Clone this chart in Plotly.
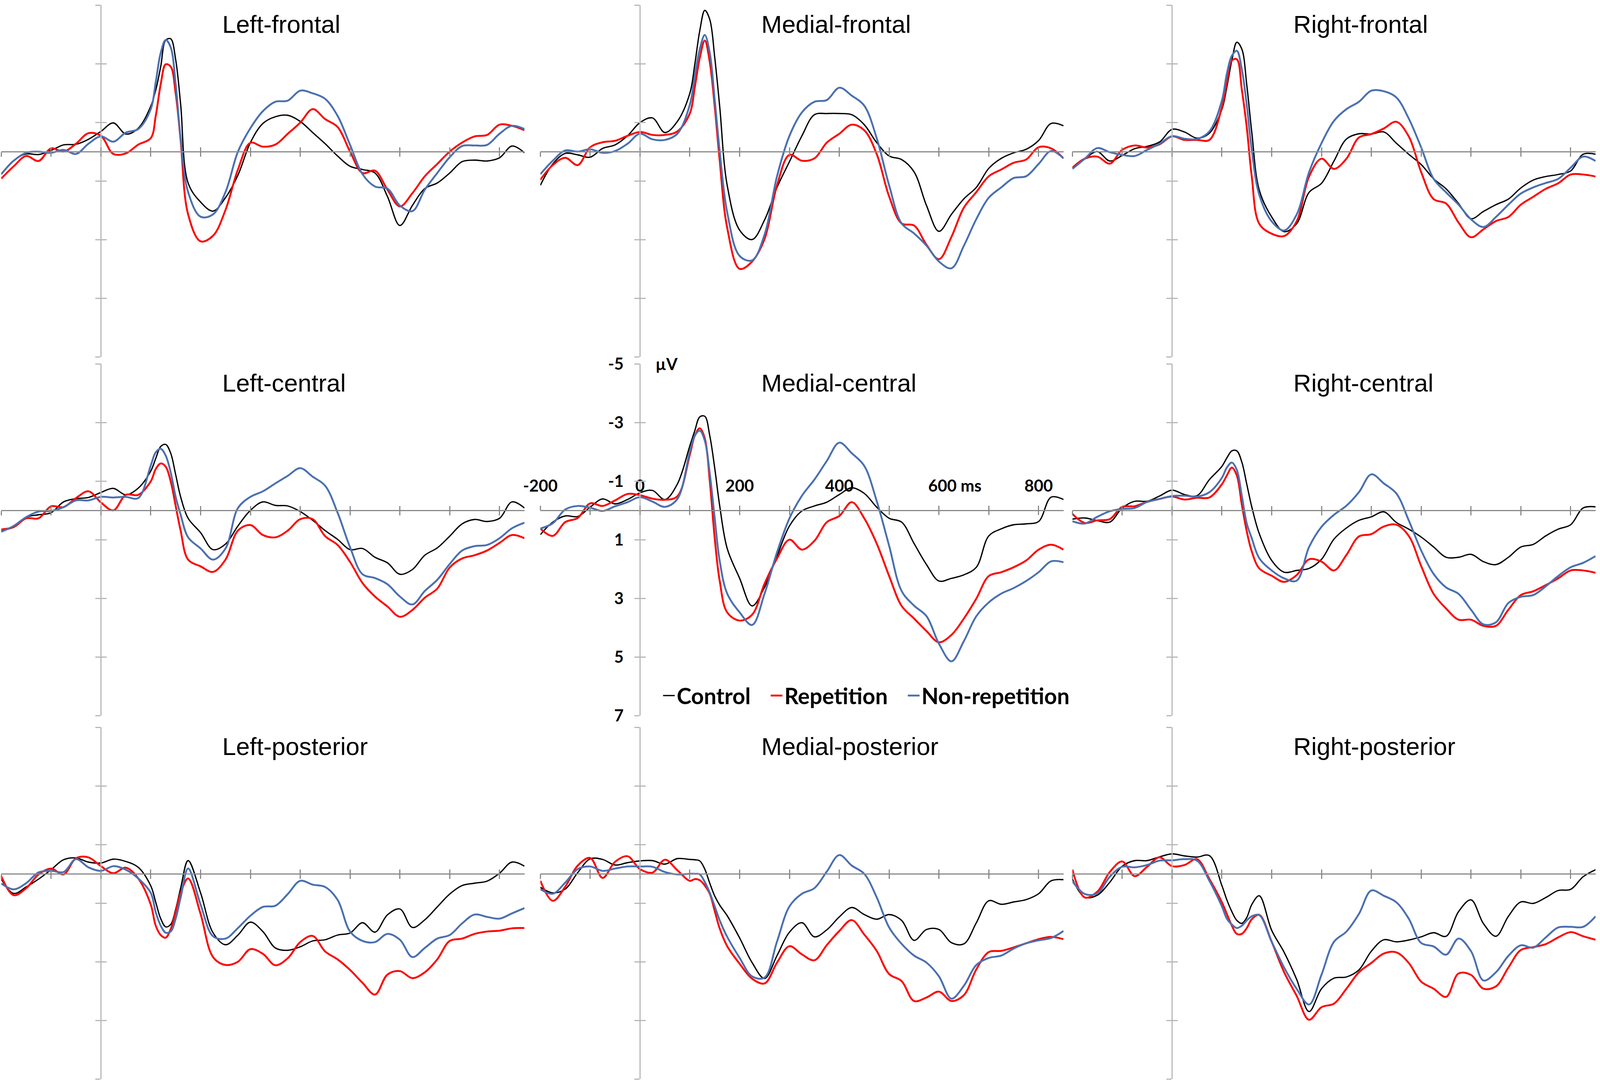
import plotly.graph_objects as go

# ---------------- data (µV, negative up) ----------------
TIME = [-200, -175, -150, -125, -100, -75, -50, -25, 0, 25, 50, 75, 100,
        110, 120, 130, 140, 150, 160,
        175, 200, 225, 250, 275, 300, 325, 350, 375, 400, 425, 450, 475, 500,
        525, 550, 575, 600, 625, 650, 675, 700, 725, 750, 775, 800, 825, 850]

SERIES = ["Control", "Repetition", "Non-repetition"]
PANELS = ["Left-frontal", "Medial-frontal", "Right-frontal",
          "Left-central", "Medial-central", "Right-central",
          "Left-posterior", "Medial-posterior", "Right-posterior"]

LF_CONTROL = [0.77, 0.3, 0.08, 0.1, -0.04, -0.23, -0.25, -0.42, -0.69, -0.98, -0.6, -0.8, -1.55,
              -2.1, -2.9, -3.8, -3.85, -3.14, -1.61,
              1.07, 1.72, 2.03, 1.57, 0.8, -0.31, -0.96, -1.19, -1.24, -1.03, -0.65, -0.27, 0.15, 0.5,
              0.61, 0.73, 1.53, 2.52, 1.84, 1.26, 1.07, 0.73, 0.34, 0.29, 0.32, 0.21, -0.19, 0.04]
LF_REP = [0.92, 0.5, 0.15, 0.32, -0.11, 0.0, -0.27, -0.63, -0.54, 0.08, 0.06, -0.24, -0.46,
          -1.22, -2.3, -2.98, -2.9, -1.99, -0.38,
          2.14, 3.06, 2.87, 1.99, 0.61, -0.3, -0.17, -0.24, -0.61, -0.99, -1.45, -1.11, -0.84, 0.0,
          0.73, 0.65, 1.3, 1.87, 1.42, 0.84, 0.42, 0.0, -0.31, -0.52, -0.57, -0.92, -0.88, -0.73]
LF_NONREP = [0.77, 0.31, 0.04, 0.0, 0.04, -0.06, 0.08, -0.27, -0.52, -0.34, -0.65, -0.77, -1.45,
             -2.37, -3.37, -3.81, -3.56, -2.3, -0.46,
             1.38, 2.22, 2.14, 1.38, 0.0, -0.8, -1.38, -1.7, -1.74, -2.08, -1.99, -1.8, -1.22, -0.23,
             0.77, 1.19, 1.26, 1.84, 2.03, 1.3, 0.73, 0.19, -0.19, -0.21, -0.23, -0.61, -0.88, -0.77]

MF_CONTROL = [1.15, 0.42, 0.06, 0.11, 0.19, -0.11, -0.23, -0.54, -0.99, -1.15, -0.65, -1.03, -1.99,
              -2.98, -4.13, -4.82, -4.51, -3.21, -1.53,
              1.15, 2.68, 3.0, 2.33, 1.22, 0.34, -0.54, -1.26, -1.3, -1.3, -1.26, -0.92, -0.31, 0.15,
              0.27, 0.69, 1.84, 2.72, 2.14, 1.61, 1.22, 0.57, 0.23, 0.04, -0.08, -0.38, -0.96, -0.88]
MF_REP = [0.96, 0.46, 0.21, 0.46, -0.15, -0.32, -0.37, -0.54, -0.67, -0.57, -0.57, -0.69, -1.3,
          -2.2, -3.2, -3.79, -3.06, -1.53, 0.31,
          2.6, 4.0, 3.75, 2.98, 1.15, 0.11, 0.31, 0.23, -0.31, -0.61, -0.92, -0.73, 0.08, 1.53,
          2.45, 2.52, 3.18, 3.67, 2.91, 1.91, 1.38, 0.84, 0.61, 0.38, 0.27, -0.15, -0.11, 0.23]
MF_NONREP = [0.77, 0.31, -0.04, 0.0, -0.08, 0.04, -0.02, -0.27, -0.61, -0.42, -0.4, -0.61, -1.6,
             -2.6, -3.5, -3.98, -3.37, -1.76, 0.0,
             2.07, 3.56, 3.71, 2.83, 0.84, -0.54, -1.34, -1.7, -1.76, -2.18, -1.91, -1.57, -0.46, 1.15,
             2.45, 2.79, 3.21, 3.75, 3.98, 3.21, 2.3, 1.57, 1.22, 0.9, 0.84, 0.42, -0.02, 0.23]

RF_CONTROL = [0.55, 0.24, 0.0, 0.32, 0.13, -0.1, -0.18, -0.33, -0.76, -0.67, -0.46, -0.63, -1.44,
              -2.2, -3.11, -3.73, -3.5, -2.27, -0.67,
              1.31, 2.23, 2.73, 2.46, 1.39, 1.08, 0.32, -0.43, -0.61, -0.6, -0.67, -0.29, 0.09, 0.44,
              0.93, 1.27, 1.77, 2.29, 2.04, 1.81, 1.62, 1.24, 0.97, 0.85, 0.78, 0.66, 0.09, 0.09]
RF_REP = [0.55, 0.24, 0.17, 0.41, -0.06, -0.21, -0.14, -0.25, -0.52, -0.4, -0.4, -0.4, -1.51,
          -2.35, -3.11, -3.15, -2.12, -0.82, 0.85,
          2.46, 2.8, 2.88, 2.38, 0.85, 0.24, 0.59, 0.24, -0.48, -0.6, -0.79, -1.02, -0.52, 0.7,
          1.62, 1.77, 2.42, 2.92, 2.65, 2.37, 2.23, 1.81, 1.54, 1.27, 1.08, 0.78, 0.78, 0.85]
RF_NONREP = [0.59, 0.24, -0.12, 0.02, 0.11, 0.15, -0.06, -0.27, -0.53, -0.44, -0.43, -0.69, -1.74,
             -2.66, -3.27, -3.44, -2.81, -1.59, -0.06,
             1.47, 2.38, 2.69, 2.15, 0.7, -0.29, -1.05, -1.45, -1.7, -2.08, -2.06, -1.85, -1.13, -0.14,
             0.93, 1.39, 1.81, 2.31, 2.57, 2.23, 1.81, 1.43, 1.22, 1.07, 0.93, 0.55, 0.17, 0.32]

LC_CONTROL = [0.69, 0.57, 0.23, 0.15, 0.08, -0.29, -0.4, -0.44, -0.61, -0.75, -0.53, -0.76, -1.34,
              -1.77, -2.18, -2.25, -1.95, -1.22, -0.46,
              0.27, 0.76, 1.34, 1.15, 0.53, 0.0, -0.29, -0.17, -0.15, 0.04, 0.34, 0.69, 0.99, 1.34,
              1.3, 1.6, 1.79, 2.18, 2.02, 1.53, 1.28, 0.88, 0.46, 0.31, 0.38, 0.27, -0.29, -0.08]
LC_REP = [0.65, 0.57, 0.27, 0.27, -0.14, -0.11, -0.42, -0.65, -0.27, 0.0, -0.53, -0.53, -0.99,
          -1.41, -1.6, -1.49, -0.99, -0.15, 0.69,
          1.68, 1.91, 2.1, 1.68, 0.69, 0.5, 0.84, 0.92, 0.69, 0.3, 0.3, 0.88, 1.18, 1.76,
          2.48, 2.94, 3.28, 3.63, 3.4, 2.98, 2.67, 1.95, 1.64, 1.53, 1.37, 1.11, 0.84, 0.95]
LC_NONREP = [0.73, 0.53, 0.23, 0.04, 0.02, -0.11, -0.34, -0.34, -0.46, -0.44, -0.46, -0.42, -1.53,
             -1.98, -2.1, -1.87, -1.3, -0.46, 0.15,
             0.92, 1.3, 1.68, 1.3, -0.08, -0.46, -0.65, -0.92, -1.18, -1.44, -1.15, -0.84, 0.08, 1.26,
             2.18, 2.31, 2.52, 2.94, 3.21, 2.75, 2.37, 1.83, 1.37, 1.22, 1.18, 0.95, 0.61, 0.42]

MC_CONTROL = [0.83, 0.4, 0.19, 0.21, -0.11, -0.39, -0.22, -0.37, -0.6, -0.68, -0.37, -0.9, -2.2,
              -2.72, -3.19, -3.21, -2.55, -1.44, -0.15,
              1.3, 2.32, 3.26, 2.62, 1.56, 0.53, 0.02, -0.15, -0.28, -0.54, -0.77, -0.58, -0.11, 0.27,
              0.4, 1.13, 1.85, 2.41, 2.32, 2.2, 1.94, 0.87, 0.63, 0.49, 0.46, 0.38, -0.45, -0.37]
MC_REP = [0.62, 0.87, 0.4, 0.26, -0.24, -0.15, -0.34, -0.56, -0.52, -0.4, -0.36, -0.48, -1.9,
          -2.55, -2.8, -2.46, -1.01, 0.96, 2.41,
          3.48, 3.76, 3.56, 2.5, 1.64, 1.0, 1.34, 1.04, 0.4, 0.19, -0.28, 0.27, 1.13, 2.24,
          3.26, 3.69, 4.12, 4.5, 4.25, 3.69, 3.01, 2.24, 2.11, 1.94, 1.71, 1.34, 1.17, 1.34]
MC_NONREP = [0.62, 0.44, -0.03, -0.15, -0.09, 0.02, -0.14, -0.28, -0.45, -0.3, -0.12, -0.39, -2.0,
             -2.55, -2.72, -2.38, -1.26, 0.27, 1.73,
             2.84, 3.48, 3.91, 2.84, 1.43, 0.27, -0.5, -1.05, -1.69, -2.31, -1.95, -1.52, -0.32, 1.21,
             2.75, 3.25, 3.61, 4.55, 5.15, 4.46, 3.61, 3.14, 2.84, 2.65, 2.41, 2.11, 1.74, 1.77]

RC_CONTROL = [0.3, 0.26, 0.35, 0.4, -0.08, -0.31, -0.31, -0.49, -0.69, -0.54, -0.5, -1.05, -1.5,
              -1.79, -2.03, -2.03, -1.65, -0.89, -0.12,
              0.79, 1.71, 2.11, 2.05, 1.98, 1.67, 0.98, 0.6, 0.34, 0.22, 0.05, 0.41, 0.64, 0.91,
              1.25, 1.6, 1.6, 1.5, 1.75, 1.85, 1.6, 1.25, 1.16, 0.87, 0.64, 0.49, -0.08, -0.12]
RC_REP = [0.12, 0.43, 0.34, 0.3, -0.12, -0.14, -0.29, -0.39, -0.47, -0.37, -0.43, -0.44, -0.89,
          -1.19, -1.46, -1.19, -0.2, 0.72, 1.4,
          1.98, 2.23, 2.44, 2.21, 1.67, 1.75, 2.05, 1.52, 0.89, 0.81, 0.55, 0.49, 0.87, 1.9,
          2.85, 3.35, 3.73, 3.73, 3.94, 3.94, 3.39, 2.89, 2.76, 2.55, 2.32, 2.05, 2.05, 2.13]
RC_NONREP = [0.37, 0.45, 0.22, 0.03, -0.05, -0.08, -0.29, -0.39, -0.49, -0.5, -0.47, -0.62, -1.11,
             -1.46, -1.63, -1.38, -0.5, 0.45, 0.95,
             1.63, 2.05, 2.32, 2.4, 1.25, 0.56, 0.15, -0.16, -0.62, -1.23, -0.92, -0.58, 0.34, 1.37,
             2.17, 2.63, 2.85, 3.39, 3.89, 3.82, 3.16, 2.95, 2.89, 2.59, 2.24, 1.94, 1.79, 1.56]

LP_CONTROL = [0.18, 0.67, 0.45, 0.18, -0.14, -0.48, -0.54, -0.4, -0.37, -0.5, -0.42, -0.22, 0.41,
              0.97, 1.53, 1.81, 1.73, 1.21, 0.49,
              -0.45, 0.65, 2.01, 2.42, 2.09, 1.65, 1.97, 2.53, 2.61, 2.49, 2.29, 2.25, 2.09, 2.02,
              1.67, 1.99, 1.4, 1.2, 1.83, 1.57, 1.13, 0.69, 0.4, 0.32, 0.25, -0.02, -0.4, -0.26]
LP_REP = [0.08, 0.73, 0.49, 0.02, -0.18, 0.02, -0.53, -0.56, -0.26, -0.02, -0.21, 0.16, 1.05,
          1.77, 2.09, 2.18, 1.89, 1.29, 0.65,
          0.16, 1.37, 2.84, 3.11, 3.0, 2.57, 2.73, 3.12, 2.88, 2.33, 2.12, 2.65, 2.92, 3.28,
          3.72, 4.12, 3.44, 3.32, 3.56, 3.36, 2.92, 2.29, 2.21, 2.05, 1.97, 1.94, 1.86, 1.85]
LP_NONREP = [0.33, 0.53, 0.32, -0.05, -0.1, -0.06, -0.5, -0.22, -0.1, -0.26, -0.14, 0.16, 0.65,
             1.31, 1.77, 2.01, 1.97, 1.53, 0.81,
             -0.18, 1.05, 2.13, 2.21, 1.85, 1.43, 1.13, 1.09, 0.69, 0.24, 0.37, 0.45, 0.89, 1.97,
             2.29, 2.33, 2.05, 2.25, 2.84, 2.53, 2.21, 2.09, 1.69, 1.39, 1.47, 1.53, 1.35, 1.17]

MP_CONTROL = [0.46, 0.65, 0.52, -0.04, -0.51, -0.49, -0.3, -0.38, -0.44, -0.45, -0.33, -0.52, -0.49,
              -0.48, -0.44, -0.16, 0.32, 0.76, 1.07,
              1.43, 2.19, 3.03, 3.57, 2.79, 1.99, 1.67, 2.15, 1.91, 1.47, 1.15, 1.39, 1.55, 1.39,
              1.59, 2.27, 1.9, 1.9, 2.35, 2.39, 1.67, 0.92, 1.04, 0.96, 0.88, 0.68, 0.24, 0.2]
MP_REP = [0.24, 0.92, 0.44, -0.28, -0.54, 0.14, -0.41, -0.6, -0.16, -0.04, -0.48, -0.12, 0.24,
          0.18, 0.22, 0.4, 0.68, 1.27, 1.87,
          2.47, 3.07, 3.58, 3.74, 3.03, 2.47, 2.75, 2.95, 2.43, 1.95, 1.58, 2.07, 2.63, 3.42,
          3.66, 4.34, 4.22, 4.02, 4.34, 4.14, 3.26, 2.67, 2.63, 2.51, 2.37, 2.23, 2.15, 2.23]
MP_NONREP = [0.52, 0.68, 0.3, -0.16, -0.25, -0.1, -0.18, -0.25, -0.25, -0.24, -0.06, 0.02, 0.0,
             0.0, 0.02, 0.28, 0.65, 1.11, 1.59,
             2.15, 2.87, 3.5, 3.54, 2.31, 1.11, 0.68, 0.49, -0.08, -0.64, -0.28, 0.0, 0.8, 1.83,
             2.39, 2.79, 3.03, 3.5, 4.26, 3.82, 3.11, 2.87, 2.79, 2.55, 2.37, 2.27, 2.19, 1.95]

RP_CONTROL = [0.18, 0.8, 0.73, 0.29, -0.26, -0.45, -0.45, -0.58, -0.68, -0.61, -0.57, -0.62, 0.4,
              0.89, 1.29, 1.59, 1.69, 1.49, 1.05,
              0.75, 1.93, 2.68, 3.6, 4.7, 3.92, 3.56, 3.52, 3.28, 2.64, 2.25, 2.32, 2.26, 2.15,
              2.01, 2.13, 1.29, 0.89, 1.7, 2.13, 1.45, 0.96, 1.01, 0.81, 0.57, 0.53, 0.1, -0.14]
RP_REP = [-0.14, 0.81, 0.61, -0.06, -0.42, 0.08, -0.24, -0.56, -0.26, -0.3, -0.5, 0.18, 0.97,
          1.37, 1.77, 2.05, 2.05, 1.85, 1.55,
          1.4, 2.32, 3.36, 4.16, 4.98, 4.55, 4.43, 3.92, 3.36, 3.04, 2.72, 2.68, 3.04, 3.68,
          3.92, 4.2, 3.4, 3.45, 3.92, 3.84, 3.2, 2.6, 2.5, 2.4, 2.17, 1.99, 2.13, 2.25]
RP_NONREP = [0.25, 0.69, 0.67, 0.1, -0.24, -0.22, -0.3, -0.45, -0.46, -0.5, -0.45, 0.24, 1.11,
             1.53, 1.73, 1.85, 1.77, 1.59, 1.45,
             1.41, 2.32, 3.2, 3.92, 4.46, 3.44, 2.32, 1.97, 1.37, 0.57, 0.75, 0.97, 1.53, 2.36,
             2.48, 2.76, 2.21, 2.64, 3.64, 3.36, 2.8, 2.44, 2.52, 2.17, 1.83, 1.81, 1.81, 1.45]

PANEL_DATA = [
    (LF_CONTROL, LF_REP, LF_NONREP), (MF_CONTROL, MF_REP, MF_NONREP), (RF_CONTROL, RF_REP, RF_NONREP),
    (LC_CONTROL, LC_REP, LC_NONREP), (MC_CONTROL, MC_REP, MC_NONREP), (RC_CONTROL, RC_REP, RC_NONREP),
    (LP_CONTROL, LP_REP, LP_NONREP), (MP_CONTROL, MP_REP, MP_NONREP), (RP_CONTROL, RP_REP, RP_NONREP),
]

X_TICKS = [-200, -100, 0, 100, 200, 300, 400, 500, 600, 700, 800]
X_TICK_TEXT = ["-200", "", "0", "", "200", "", "400", "",
               "\u00a0\u00a0\u00a0\u00a0\u00a0\u00a0\u00a0\u00a0600 ms", "", "800"]
Y_TICKS = [-5, -3, -1, 1, 3, 5, 7]
Y_TICK_TEXT = ["-5", "-3", "-1", "1", "3", "5", "7"]

# ---------------- geometry (reference pixels) / styling ----------------
W, H = 4550, 2779                 # reference canvas; the figure fills the window
SX = 0.9                          # horizontal css px per reference px (window is 4096 wide)
SF = 0.93                         # font scale
COLORS = ["#000000", "#ff0000", "#4a70b0"]
WIDTHS = [3.5, 5, 5]
COL_ZERO = [287, 1820, 3333]      # pixel x of 0 ms per column
ROW_ZERO = [388, 1306, 2236]      # pixel y of 0 µV per row
PX_MS = 1.417
PX_UV = 75.0
X_MIN, X_MAX = -200, 850
Y_TOP, Y_BOT = -5, 7
XLINE = "#8a8a8a"
YLINE = "#b8b8b8"
TICKFONT = dict(family="Lato", size=45 * SF, color="black", weight="bold")
TITLEFONT = dict(family="Liberation Sans", size=68 * SF, color="black")

fig = go.Figure()
layout = dict(autosize=True, margin=dict(l=0, r=0, t=0, b=0, pad=0, autoexpand=False),
              paper_bgcolor="white", plot_bgcolor="rgba(0,0,0,0)",
              showlegend=True, annotations=[])

for i, name in enumerate(PANELS):
    r, c = divmod(i, 3)
    k = i + 1
    kx = i + 10
    sfx = "" if k == 1 else str(k)
    x0 = (COL_ZERO[c] + X_MIN * PX_MS) / W
    x1 = (COL_ZERO[c] + X_MAX * PX_MS) / W
    ytop = 1 - (ROW_ZERO[r] + Y_TOP * PX_UV) / H
    ybot = 1 - (ROW_ZERO[r] + Y_BOT * PX_UV) / H
    xpos_axis = COL_ZERO[c] / W
    ypos_axis = 1 - ROW_ZERO[r] / H
    labelled = (name == "Medial-central")

    base_x = dict(domain=[x0, x1], range=[X_MIN, X_MAX], anchor="free", position=ypos_axis,
                  showgrid=False, zeroline=False, tickvals=X_TICKS, ticktext=X_TICK_TEXT,
                  tickcolor=XLINE, tickwidth=3, ticklen=11, fixedrange=True, automargin=False,
                  side="top" if labelled else "bottom")
    base_y = dict(domain=[ybot, ytop], range=[Y_BOT, Y_TOP], anchor="free", position=xpos_axis,
                  showgrid=False, zeroline=False, tickvals=Y_TICKS, ticktext=Y_TICK_TEXT,
                  tickcolor=YLINE, tickwidth=3, ticklen=15 * SX, fixedrange=True, automargin=False,
                  side="left")

    layout["xaxis" + sfx] = dict(base_x, showline=True, linecolor=XLINE, linewidth=3,
                                 ticks="outside", showticklabels=labelled, tickfont=TICKFONT,
                                 ticklabelstandoff=19)
    layout["yaxis" + sfx] = dict(base_y, showline=True, linecolor=YLINE, linewidth=3,
                                 ticks="outside", showticklabels=labelled, tickfont=TICKFONT,
                                 ticklabelstandoff=int(22 * SX))
    # companion axes giving the ticks on the other side of each axis line
    layout["xaxis" + str(kx)] = dict(base_x, showline=False, ticks="inside", showticklabels=False)
    layout["yaxis" + str(kx)] = dict(base_y, showline=False, ticks="inside", showticklabels=False)
    fig.add_trace(go.Scatter(x=[None], y=[None], xaxis="x" + str(kx), yaxis="y" + str(kx),
                             showlegend=False, hoverinfo="skip"))

    for s, vals in enumerate(PANEL_DATA[i]):
        fig.add_trace(go.Scatter(
            x=TIME, y=vals, mode="lines",
            name=SERIES[s] + ("\u00a0\u00a0\u00a0" if s < 2 else ""),
            legendgroup=SERIES[s], showlegend=(i == 0),
            line=dict(color=COLORS[s], width=WIDTHS[s] * 0.95, shape="spline"),
            xaxis="x" + sfx, yaxis="y" + sfx))

    layout["annotations"].append(dict(
        text=name, x=242, y=-4.35, xref="x" + sfx, yref="y" + sfx,
        xanchor="left", yanchor="middle", showarrow=False, font=TITLEFONT))
    if labelled:
        layout["annotations"].append(dict(
            text="µV", x=0, y=-5, xref="x" + sfx, yref="y" + sfx, xanchor="left",
            yanchor="middle", xshift=42 * SX, showarrow=False, font=TICKFONT))

layout["legend"] = dict(orientation="h", x=1880 / W, y=1 - 1780 / H, xanchor="left",
                        yanchor="middle", bgcolor="rgba(0,0,0,0)", borderwidth=0,
                        font=dict(family="Lato", size=61 * SF, color="black", weight="bold"),
                        itemwidth=30, tracegroupgap=0)

fig.update_layout(**layout)

POST = ("document.documentElement.style.margin='0';document.body.style.margin='0';"
        "document.body.style.overflow='hidden';"
        "var gd=document.getElementById('{plot_id}');"
        "gd.style.width='100vw';gd.style.height='100vh';Plotly.Plots.resize(gd);")
fig.write_html("out.html", default_width="100vw", default_height="100vh",
               config={"responsive": True, "displayModeBar": False}, post_script=POST)
